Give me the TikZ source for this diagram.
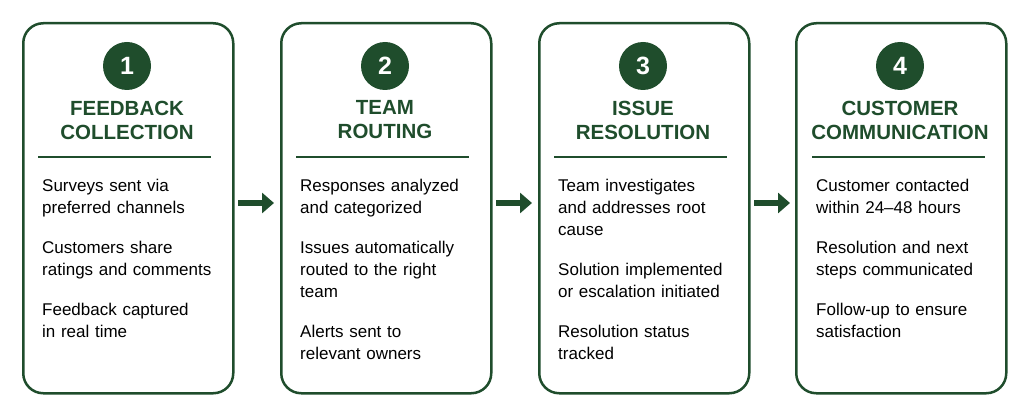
\documentclass[tikz,border=0pt]{standalone}
\usepackage{fontspec}
\setmainfont{Liberation Sans}
\usetikzlibrary{arrows.meta,positioning}
\definecolor{darkgreen}{HTML}{1F4D2C}
\begin{document}
\begin{tikzpicture}[
        x=1pt, y=-1pt,
        panel/.style={
            rectangle,
            draw=darkgreen,
            line width=2.5pt,
            rounded corners=20pt,
            minimum width=210pt,
            minimum height=370pt,
            anchor=north west,
        },
        num/.style={
            circle,
            fill=darkgreen,
            text=white,
            minimum size=48pt,
            font=\fontsize{25}{25}\selectfont\bfseries,
        },
        title/.style={
            text=darkgreen,
            align=center,
            font=\fontsize{20.5}{24}\selectfont\bfseries,
        },
        body/.style={
            anchor=north west,
            text width=200pt,
            align=left,
            inner sep=0pt,
            font=\fontsize{17}{22}\selectfont,
        },
        rule/.style={
            draw=darkgreen,
            line width=2pt,
        },
        flow/.style={
            -{Triangle[length=12pt,width=20pt]},
            draw=darkgreen,
            line width=6pt,
        },
    ]
        \useasboundingbox (0,0) rectangle (1024,414);

        % panels
        \node [panel] (p1) at (22,22) {};
        \node [panel] (p2) at (280,22) {};
        \node [panel] (p3) at (538,22) {};
        \node [panel] (p4) at (795,22) {};

        % numbers
        \node [num] (n1) at (127,66) {1};
        \node [num] (n2) at (385,66) {2};
        \node [num] (n3) at (643,66) {3};
        \node [num] (n4) at (900,66) {4};

        % titles
        \node [title] (t1) at (127,120) {FEEDBACK\\COLLECTION};
        \node [title] (t2) at (385,120) {TEAM\\ROUTING};
        \node [title] (t3) at (643,120) {ISSUE\\RESOLUTION};
        \node [title] (t4) at (900,120) {CUSTOMER\\COMMUNICATION};

        % rules
        \draw [rule] (38,157) -- (211,157);
        \draw [rule] (296,157) -- (469,157);
        \draw [rule] (554,157) -- (727,157);
        \draw [rule] (812,157) -- (985,157);

        % texts
        \node [body] (b1) at (42,179) {Surveys sent via\\preferred channels\\[18pt]
            Customers share\\ratings and comments\\[18pt]
            Feedback captured\\in real time};
        \node [body] (b2) at (300,179) {Responses analyzed\\and categorized\\[18pt]
            Issues automatically\\routed to the right\\team\\[18pt]
            Alerts sent to\\relevant owners};
        \node [body] (b3) at (558,179) {Team investigates\\and addresses root\\cause\\[18pt]
            Solution implemented\\or escalation initiated\\[18pt]
            Resolution status\\tracked};
        \node [body] (b4) at (816,179) {Customer contacted\\within 24–48 hours\\[18pt]
            Resolution and next\\steps communicated\\[18pt]
            Follow-up to ensure\\satisfaction};

        % arrows
        \coordinate (a1) at (238,203);
        \coordinate (a2) at (496,203);
        \coordinate (a3) at (754,203);
        \draw [flow] (a1) -- ++(36,0);
        \draw [flow] (a2) -- ++(36,0);
        \draw [flow] (a3) -- ++(36,0);
\end{tikzpicture}
\end{document}
